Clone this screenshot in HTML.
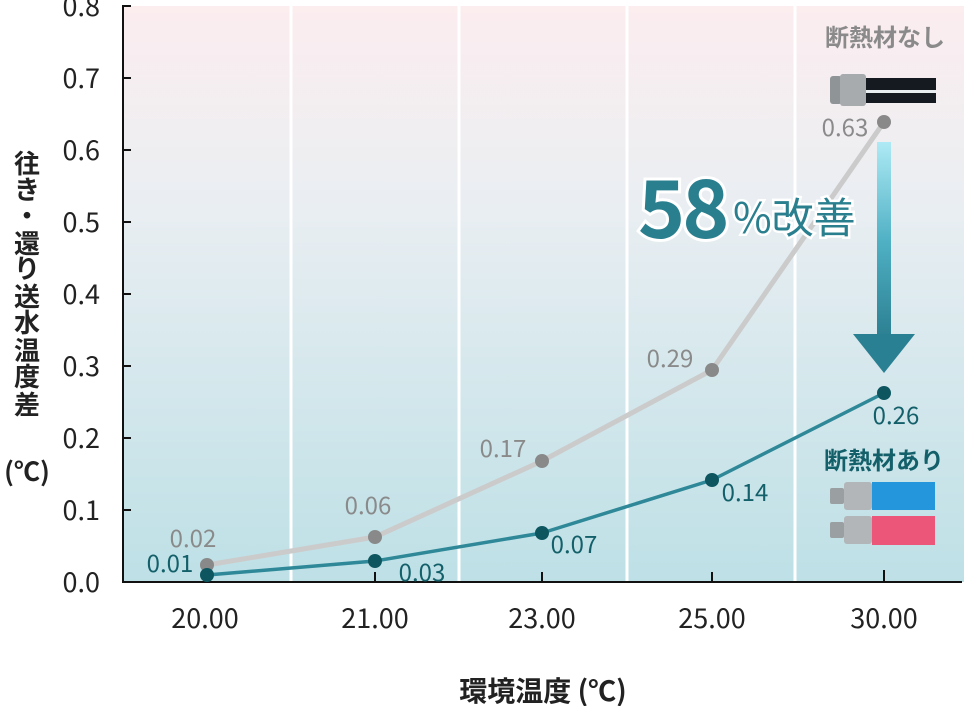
<!DOCTYPE html>
<html><head><meta charset="utf-8"><style>
body{margin:0;background:#fff;}
svg{display:block;font-family:"Noto Sans CJK JP","Liberation Sans",sans-serif;}
</style></head><body>
<svg width="964" height="706" viewBox="0 0 964 706" xmlns="http://www.w3.org/2000/svg">
<defs>
<linearGradient id="bg" x1="0" y1="0" x2="0" y2="1">
<stop offset="0" stop-color="#fcedef"/><stop offset="0.35" stop-color="#e9eef2"/><stop offset="1" stop-color="#bde0e6"/>
</linearGradient>
<linearGradient id="ar" x1="0" y1="0" x2="0" y2="1">
<stop offset="0" stop-color="#aeeaf5"/><stop offset="0.5" stop-color="#4fb0c4"/><stop offset="1" stop-color="#2a7d8f"/>
</linearGradient>
</defs>
<rect x="124" y="6" width="840" height="576" fill="url(#bg)"/>
<g stroke="#fff" stroke-width="3">
<line x1="291" y1="6" x2="291" y2="582"/><line x1="459" y1="6" x2="459" y2="582"/>
<line x1="627" y1="6" x2="627" y2="582"/><line x1="795" y1="6" x2="795" y2="582"/>
</g>
<g stroke="#111" stroke-width="2">
<line x1="123" y1="5" x2="123" y2="583"/><line x1="122" y1="582" x2="962" y2="582"/>
<line x1="123" y1="6" x2="131" y2="6"/><line x1="123" y1="78" x2="131" y2="78"/><line x1="123" y1="150" x2="131" y2="150"/><line x1="123" y1="222" x2="131" y2="222"/><line x1="123" y1="294" x2="131" y2="294"/><line x1="123" y1="366" x2="131" y2="366"/><line x1="123" y1="438" x2="131" y2="438"/><line x1="123" y1="510" x2="131" y2="510"/>
<line x1="207" y1="582" x2="207" y2="572"/><line x1="375" y1="582" x2="375" y2="572"/><line x1="542" y1="582" x2="542" y2="572"/><line x1="712" y1="582" x2="712" y2="572"/><line x1="884" y1="582" x2="884" y2="570"/>
</g>
<g font-size="27" fill="#222" text-anchor="end">
<text x="100" y="16">0.8</text><text x="100" y="88">0.7</text><text x="100" y="160">0.6</text><text x="100" y="232">0.5</text><text x="100" y="304">0.4</text><text x="100" y="376">0.3</text><text x="100" y="448">0.2</text><text x="100" y="520">0.1</text><text x="100" y="592">0.0</text>
</g>
<g font-size="27" fill="#222" text-anchor="middle">
<text x="205" y="628">20.00</text><text x="375" y="628">21.00</text><text x="542" y="628">23.00</text><text x="712" y="628">25.00</text><text x="884" y="628">30.00</text>
</g>
<text x="543" y="701" font-size="28" font-weight="bold" fill="#222" text-anchor="middle">環境温度 (℃)</text>
<g font-size="26" font-weight="bold" fill="#222" text-anchor="middle">
<text x="27" y="173">往</text><text x="27" y="199">き</text><text x="27" y="225">・</text><text x="27" y="253">還</text><text x="27" y="278">り</text><text x="27" y="306">送</text><text x="27" y="332">水</text><text x="27" y="360">温</text><text x="27" y="386">度</text><text x="27" y="414">差</text><text x="27" y="481">(℃)</text>
</g>
<rect x="877" y="142" width="14" height="200" fill="url(#ar)"/>
<polygon points="853,334 915,334 884,373" fill="#2a8093"/>
<polyline points="207,565 375,537 542,461 712,370 884,122" fill="none" stroke="#cbcbcb" stroke-width="5" stroke-linejoin="round"/>
<polyline points="207,575 375,561 542,533 712,480 884,393" fill="none" stroke="#2e8898" stroke-width="3.5" stroke-linejoin="round"/>
<g fill="#898989"><circle cx="207" cy="565" r="7"/><circle cx="375" cy="537" r="7"/><circle cx="542" cy="461" r="7"/><circle cx="712" cy="370" r="7"/><circle cx="884" cy="122" r="7"/></g>
<g fill="#0d5660"><circle cx="207" cy="575" r="7"/><circle cx="375" cy="561" r="7"/><circle cx="542" cy="533" r="7"/><circle cx="712" cy="480" r="7"/><circle cx="884" cy="393" r="7"/></g>
<g font-size="24" fill="#8a8a8a" text-anchor="middle">
<text x="193" y="547">0.02</text><text x="368" y="514">0.06</text><text x="503" y="457">0.17</text><text x="670" y="367">0.29</text><text x="845" y="136">0.63</text>
</g>
<g font-size="24" fill="#14606a" text-anchor="middle">
<text x="170" y="572">0.01</text><text x="422" y="581">0.03</text><text x="574" y="553">0.07</text><text x="745" y="501">0.14</text><text x="896" y="424">0.26</text>
</g>
<text x="638" y="238" font-size="80" font-weight="bold" fill="#2a7f8f" stroke="#fff" stroke-width="6" paint-order="stroke" letter-spacing="-3">58</text>
<text x="733" y="233" font-size="42" fill="#2a7f8f" stroke="#fff" stroke-width="5" paint-order="stroke">%改善</text>
<text x="885" y="46" font-size="24" font-weight="bold" fill="#8a8a8a" text-anchor="middle">断熱材なし</text>
<rect x="830" y="76" width="12" height="28" rx="3" fill="#8f9497"/>
<rect x="840" y="74" width="26" height="32" rx="3" fill="#a7abad"/>
<rect x="866" y="78" width="70" height="25" fill="#151a20"/>
<rect x="866" y="90" width="70" height="3" fill="#e8eef0"/>
<text x="884" y="469" font-size="24" font-weight="bold" fill="#14606a" text-anchor="middle">断熱材あり</text>
<rect x="830" y="488" width="14" height="16" rx="2" fill="#9a9fa1"/><rect x="844" y="482" width="28" height="28" rx="3" fill="#b3b6b8"/>
<rect x="872" y="482" width="63" height="28" fill="#2496dc"/>
<rect x="830" y="522" width="14" height="16" rx="2" fill="#9a9fa1"/><rect x="844" y="516" width="28" height="28" rx="3" fill="#b3b6b8"/>
<rect x="872" y="516" width="63" height="29" fill="#ec5678"/>
</svg>
</body></html>
